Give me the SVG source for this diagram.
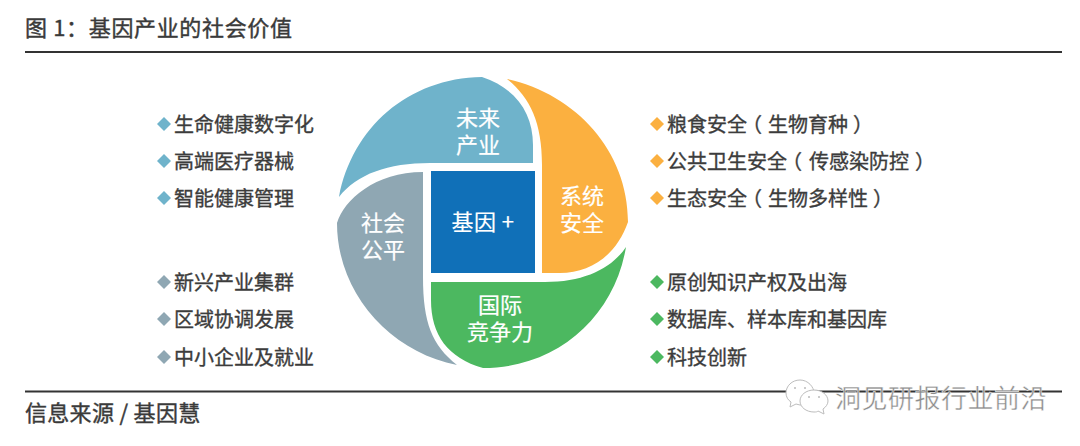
<svg xmlns="http://www.w3.org/2000/svg" width="1080" height="446" viewBox="0 0 1080 446">
<style>
text{font-family:"Noto Sans CJK SC","Noto Sans",sans-serif}
.t{font-size:20px;fill:#3c3c3c;stroke:#3c3c3c;stroke-width:.35px}
.h{font-size:22px;fill:#3a3a3a;stroke:#3a3a3a;stroke-width:.4px;letter-spacing:.65px}
.w{font-size:22px;fill:#fff;text-anchor:middle;stroke:#fff;stroke-width:.2px}
.r{stroke:#333;stroke-width:2;fill:none}
.wm{font-size:26px;fill:#8c8c8c;stroke:#fff;stroke-width:.4;letter-spacing:.5px}
.ic{fill:#fff;stroke:#bdbdbd;stroke-width:1}
</style>
<rect width="1080" height="446" fill="#fff"/>
<g id="header"><text class="h" x="25" y="36">图 1：基因产业的社会价值</text><line class="r" x1="25" y1="52" x2="1062" y2="52"/></g>
<g id="footer"><line class="r" x1="25" y1="391.500" x2="1062" y2="391.500"/><text class="h" x="25" y="421" style="letter-spacing:.3px">信息来源 / 基因慧</text></g>
<g id="node-future"><path fill="#6fb3cb" d="M339 197C352 128 408 78 482 77C515 88 533 112 533 145V163H430C388 163 357 174 339 197Z"/><text class="w" x="467 489 467 489" y="126 126 153 153">未来产业</text></g>
<g id="node-security"><path fill="#fbb040" d="M507 79C575 94 628 150 628 222C616 256 590 273 560 273H542V165C542 122 530 98 507 79Z"/><text class="w" x="571 593 571 593" y="204 204 231 231">系统安全</text></g>
<g id="node-competition"><path fill="#4cb860" d="M626 247C614 318 556 368 483 368C448 358 431 335 431 300V282H545C585 282 612 268 626 247Z"/><text class="w" x="489 511 478 500 522" y="313 313 340 340 340">国际竞争力</text></g>
<g id="node-equity"><path fill="#8fa7b3" d="M337 223C344 200 375 172 423 172V277C423 323 432 345 457 365C390 352 337 293 337 223Z"/><text class="w" x="372 394 372 394" y="231 231 258 258">社会公平</text></g>
<g id="node-gene"><rect x="431" y="171" width="104" height="102" fill="#1070b8"/><text class="w" x="483" y="230" style="letter-spacing:.5px">基因 +</text></g>
<g id="list-future">
<path fill="#6fb3cb" d="M164 117l7 7-7 7-7-7z"/><text class="t" x="174" y="132">生命健康数字化</text>
<path fill="#6fb3cb" d="M164 154l7 7-7 7-7-7z"/><text class="t" x="174" y="169">高端医疗器械</text>
<path fill="#6fb3cb" d="M164 191l7 7-7 7-7-7z"/><text class="t" x="174" y="206">智能健康管理</text>
</g>
<g id="list-equity">
<path fill="#8fa7b3" d="M164 275l7 7-7 7-7-7z"/><text class="t" x="174" y="290">新兴产业集群</text>
<path fill="#8fa7b3" d="M164 312l7 7-7 7-7-7z"/><text class="t" x="174" y="327">区域协调发展</text>
<path fill="#8fa7b3" d="M164 350l7 7-7 7-7-7z"/><text class="t" x="174" y="365">中小企业及就业</text>
</g>
<g id="list-security">
<path fill="#fbb040" d="M657 117l7 7-7 7-7-7z"/><text class="t" x="667 687 707 727 742 768 788 808 828 853" y="132">粮食安全（生物育种）</text>
<path fill="#fbb040" d="M657 154l7 7-7 7-7-7z"/><text class="t" x="667 687 707 727 747 767 782 809 829 849 869 889 915" y="169">公共卫生安全（传感染防控）</text>
<path fill="#fbb040" d="M657 191l7 7-7 7-7-7z"/><text class="t" x="667 687 707 727 742 768 788 808 828 848 873" y="206">生态安全（生物多样性）</text>
</g>
<g id="list-competition">
<path fill="#4cb860" d="M657 275l7 7-7 7-7-7z"/><text class="t" x="667" y="290">原创知识产权及出海</text>
<path fill="#4cb860" d="M657 312l7 7-7 7-7-7z"/><text class="t" x="667" y="327">数据库、样本库和基因库</text>
<path fill="#4cb860" d="M657 350l7 7-7 7-7-7z"/><text class="t" x="667" y="365">科技创新</text>
</g>
<g id="connectors"></g>
<g id="watermark">
<path class="ic" d="M800 380c-8 0-14 6-14 13 0 4 2 7 5 9l-1 5 6-3c1 0 3 1 4 1 8 0 14-6 14-12s-6-13-14-13z"/>
<path class="ic" d="M814 390c-8 0-14 5-14 11s6 11 14 11c2 0 3 0 4-1l6 3-1-5c3-2 5-5 5-8 0-6-6-11-14-11z"/>
<circle cx="809" cy="397" r="1" fill="#bbb"/><circle cx="819" cy="397" r="1" fill="#bbb"/><circle cx="795" cy="388" r="1" fill="#bbb"/><circle cx="805" cy="388" r="1" fill="#bbb"/>
<text class="wm" x="835" y="408">洞见研报行业前沿</text>
</g>
</svg>
